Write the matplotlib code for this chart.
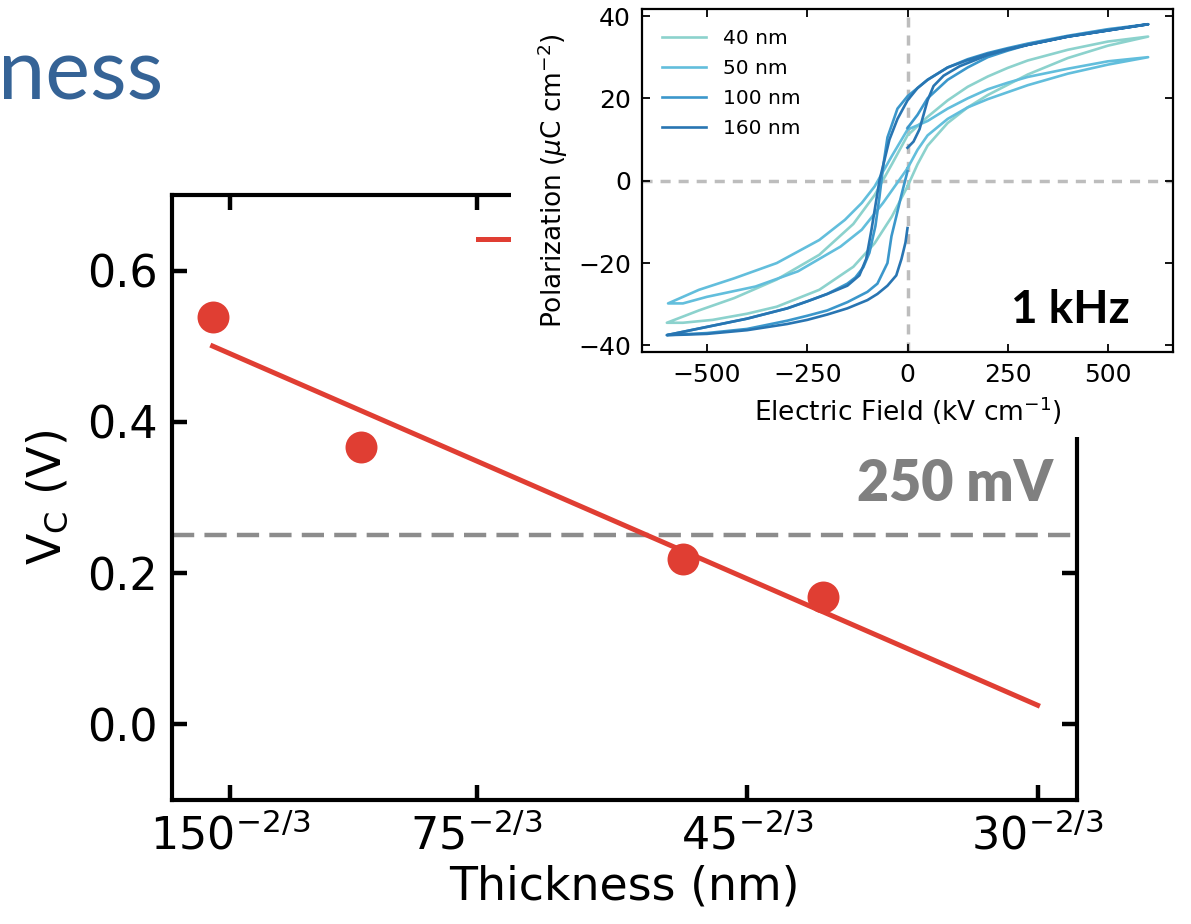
import numpy as np
import matplotlib.pyplot as plt
from matplotlib.patches import Rectangle

# coercive voltage vs thickness (main panel)
thickness_nm = [160, 100, 50, 40]
vc_volt = [0.539, 0.367, 0.219, 0.168]
fit_range_nm = [160, 30]
tick_thickness = [150, 75, 45, 30]
threshold_v = 0.25

# P-E loops (inset), traced as E (kV/cm) / P (uC/cm^2) paths
loop_labels = ['40 nm', '50 nm', '100 nm', '160 nm']
loop_colors = ['#8cd2cd', '#62bedc', '#3b97cb', '#2875b2']

e_40 = [0, 25, 50, 100, 150, 200, 250, 300, 400, 500, 600,
        500, 400, 300, 250, 200, 150, 100, 50, 0, -39, -82, -135, -220, -326, -432, -520, -600,
        -560, -486, -400, -326, -220, -135, -82, -39, 0]
p_40 = [-1.4, 4, 8.5, 14, 17.8, 20.8, 23.3, 25.8, 29.8, 32.8, 35,
        33.8, 31.8, 29.2, 27.4, 25.3, 22.8, 19.5, 15.5, 11, 4, -3.5, -10.5, -18, -24, -28.5, -31.5, -34.5,
        -34.5, -33.8, -32.3, -30.6, -26.5, -20.9, -15.2, -8.7, -1.4]

e_50 = [0, 25, 50, 100, 150, 200, 250, 300, 400, 500, 600,
        500, 400, 300, 250, 200, 150, 100, 50, 0, -39, -82, -114, -156, -220, -326, -432, -520, -597,
        -560, -500, -379, -273, -167, -114, -61, -29, 0]
p_50 = [3, 7.5, 11, 15, 17.8, 19.8, 21.5, 23.2, 26, 28.2, 30,
        29, 27.2, 25.2, 23.8, 22.2, 20, 17.5, 14.5, 12.4, 6, -1.4, -5.4, -9.5, -14.4, -20, -23.7, -26.5, -29.8,
        -29.8, -28.2, -25.7, -22, -16, -11.9, -5.4, -1, 3]

e_100 = [0, 25, 50, 100, 150, 200, 250, 300, 400, 500, 600,
         500, 400, 300, 250, 200, 150, 100, 50, 25, 0, -25, -50, -60, -70, -80, -95, -110, -130, -150,
         -200, -250, -300, -400, -500, -560, -600,
         -560, -500, -400, -300, -250, -200, -150, -100, -75, -50, -40, -28, -16, 0]
p_100 = [12.8, 16, 20, 24.5, 27.5, 30, 31.6, 33, 35, 36.5, 38,
         36.8, 35.2, 33.3, 32.2, 31, 29.5, 27.5, 24.5, 22.5, 20.5, 17.5, 10.5, 4, -4, -11, -17.5, -21, -23.5, -25,
         -27.5, -29.3, -31, -33.5, -35.5, -36.7, -37.5,
         -37.3, -37, -36, -34, -32.8, -31.5, -29.5, -27, -25, -20, -13.5, -8.7, -3.8, 2.3]

e_160 = [0, 15, 30, 40, 50, 65, 90, 130, 200, 250, 300, 400, 500, 600,
         500, 400, 300, 250, 200, 150, 100, 50, 25, 0, -25, -45, -60, -70, -80, -90, -103, -120, -150,
         -200, -250, -300, -400, -500, -560, -600,
         -560, -500, -400, -300, -250, -200, -150, -100, -75, -50, -28, -15, -5, 0]
p_160 = [8, 9.5, 12.5, 16, 19.5, 23, 25.5, 27.8, 30.5, 31.8, 33, 35, 36.5, 38,
         36.5, 35, 33, 32, 30.8, 29.3, 27.5, 24.5, 22.5, 19.5, 15, 10, 4, 0, -6, -12, -19, -23, -25.5,
         -27.5, -29.3, -31, -33.5, -35.5, -36.7, -37.5,
         -37.4, -37.2, -36.3, -34.8, -33.8, -32.5, -31, -29, -27.5, -25.5, -23, -19, -15, -11.5]

loops_e = [e_40, e_50, e_100, e_160]
loops_p = [p_40, p_50, p_100, p_160]

red = '#e03e33'

fig = plt.figure(figsize=(11.91, 9.24), dpi=100)

# slide title fragment
fig.text(-0.002, 0.892, 'ness', fontsize=61, color='#356396', family='Lato',
         ha='left', va='baseline')

# main panel
ax = fig.add_axes([172 / 1191, 1 - 800 / 924, 905 / 1191, 605 / 924])
x_data = np.array(thickness_nm, dtype=float) ** (-2 / 3)
y_data = np.array(vc_volt)
slope, intercept = np.polyfit(x_data, y_data, 1)
x_fit = np.array(fit_range_nm, dtype=float) ** (-2 / 3)

ax.axhline(threshold_v, color='#8c8c8c', lw=3.2, ls=(0, (5, 2.3)), zorder=1)
ax.plot(x_fit, slope * x_fit + intercept, color=red, lw=3.6, label='Linear fit', zorder=2)
ax.plot(x_data, y_data, 'o', color=red, ms=23, mec='none', zorder=3)
ax.text(0.1049, 0.318, '250 mV', fontsize=40, fontweight='heavy', color='#808080',
        family='Lato', ha='right', va='center')

ax.set_xlim(0.0305, 0.1069)
ax.set_ylim(-0.1, 0.7)
ax.set_xticks(np.array(tick_thickness, dtype=float) ** (-2 / 3))
ax.set_xticklabels([r'$%d^{-2/3}$' % t for t in tick_thickness])
ax.set_yticks([0.0, 0.2, 0.4, 0.6])
ax.tick_params(direction='in', length=11, width=3.2, labelsize=32, pad=10,
               top=True, right=True)
for s in ax.spines.values():
    s.set_linewidth(3)
ax.set_xlabel('Thickness (nm)', fontsize=33, labelpad=4)
ax.set_ylabel(r'V$_\mathrm{C}$ (V)', fontsize=33, labelpad=12)
leg = ax.legend(loc='center left', bbox_to_anchor=(0.338, 0.922), frameon=False,
                borderpad=0, borderaxespad=0, fontsize=31, handlelength=2.0)
# the legend label sits behind the pasted inset in the original
for t in leg.get_texts():
    t.set_visible(False)

# white background of the pasted inset
fig.patches.append(Rectangle((511 / 1191, 1 - 437 / 924), 1 - 511 / 1191, 437 / 924,
                             transform=fig.transFigure, facecolor='white',
                             edgecolor='none', zorder=1))

# inset: P-E loops
ins = fig.add_axes([642 / 1191, 1 - 352 / 924, 531 / 1191, 343 / 924], zorder=2)
ins.axhline(0, color='#bdbdbd', lw=2.5, ls=(0, (2.9, 2.3)), zorder=1)
ins.axvline(0, color='#bdbdbd', lw=2.5, ls=(0, (2.9, 2.3)), zorder=1)
for e, p, c, lab in zip(loops_e, loops_p, loop_colors, loop_labels):
    ins.plot(e, p, color=c, lw=1.9, label=lab, zorder=2)
ins.set_xlim(-662, 662)
ins.set_ylim(-41.6, 41.7)
ins.set_xticks([-500, -250, 0, 250, 500])
ins.set_yticks([-40, -20, 0, 20, 40])
ins.tick_params(direction='in', length=5.5, width=1.3, labelsize=18, pad=8,
                top=True, right=True)
for s in ins.spines.values():
    s.set_linewidth(1.6)
ins.set_xlabel(r'Electric Field (kV cm$^{-1}$)', fontsize=19, labelpad=5)
ins.set_ylabel(r'Polarization ($\mu$C cm$^{-2}$)', fontsize=19, labelpad=6)
ins.legend(loc='upper left', frameon=False, fontsize=14.5, handlelength=2.2,
           labelspacing=0.55, borderaxespad=0.6)
ins.text(0.919, 0.085, '1 kHz', transform=ins.transAxes, fontsize=33, fontweight='bold',
         family='Lato', ha='right', va='baseline')

fig.savefig('out.png', dpi=100)
